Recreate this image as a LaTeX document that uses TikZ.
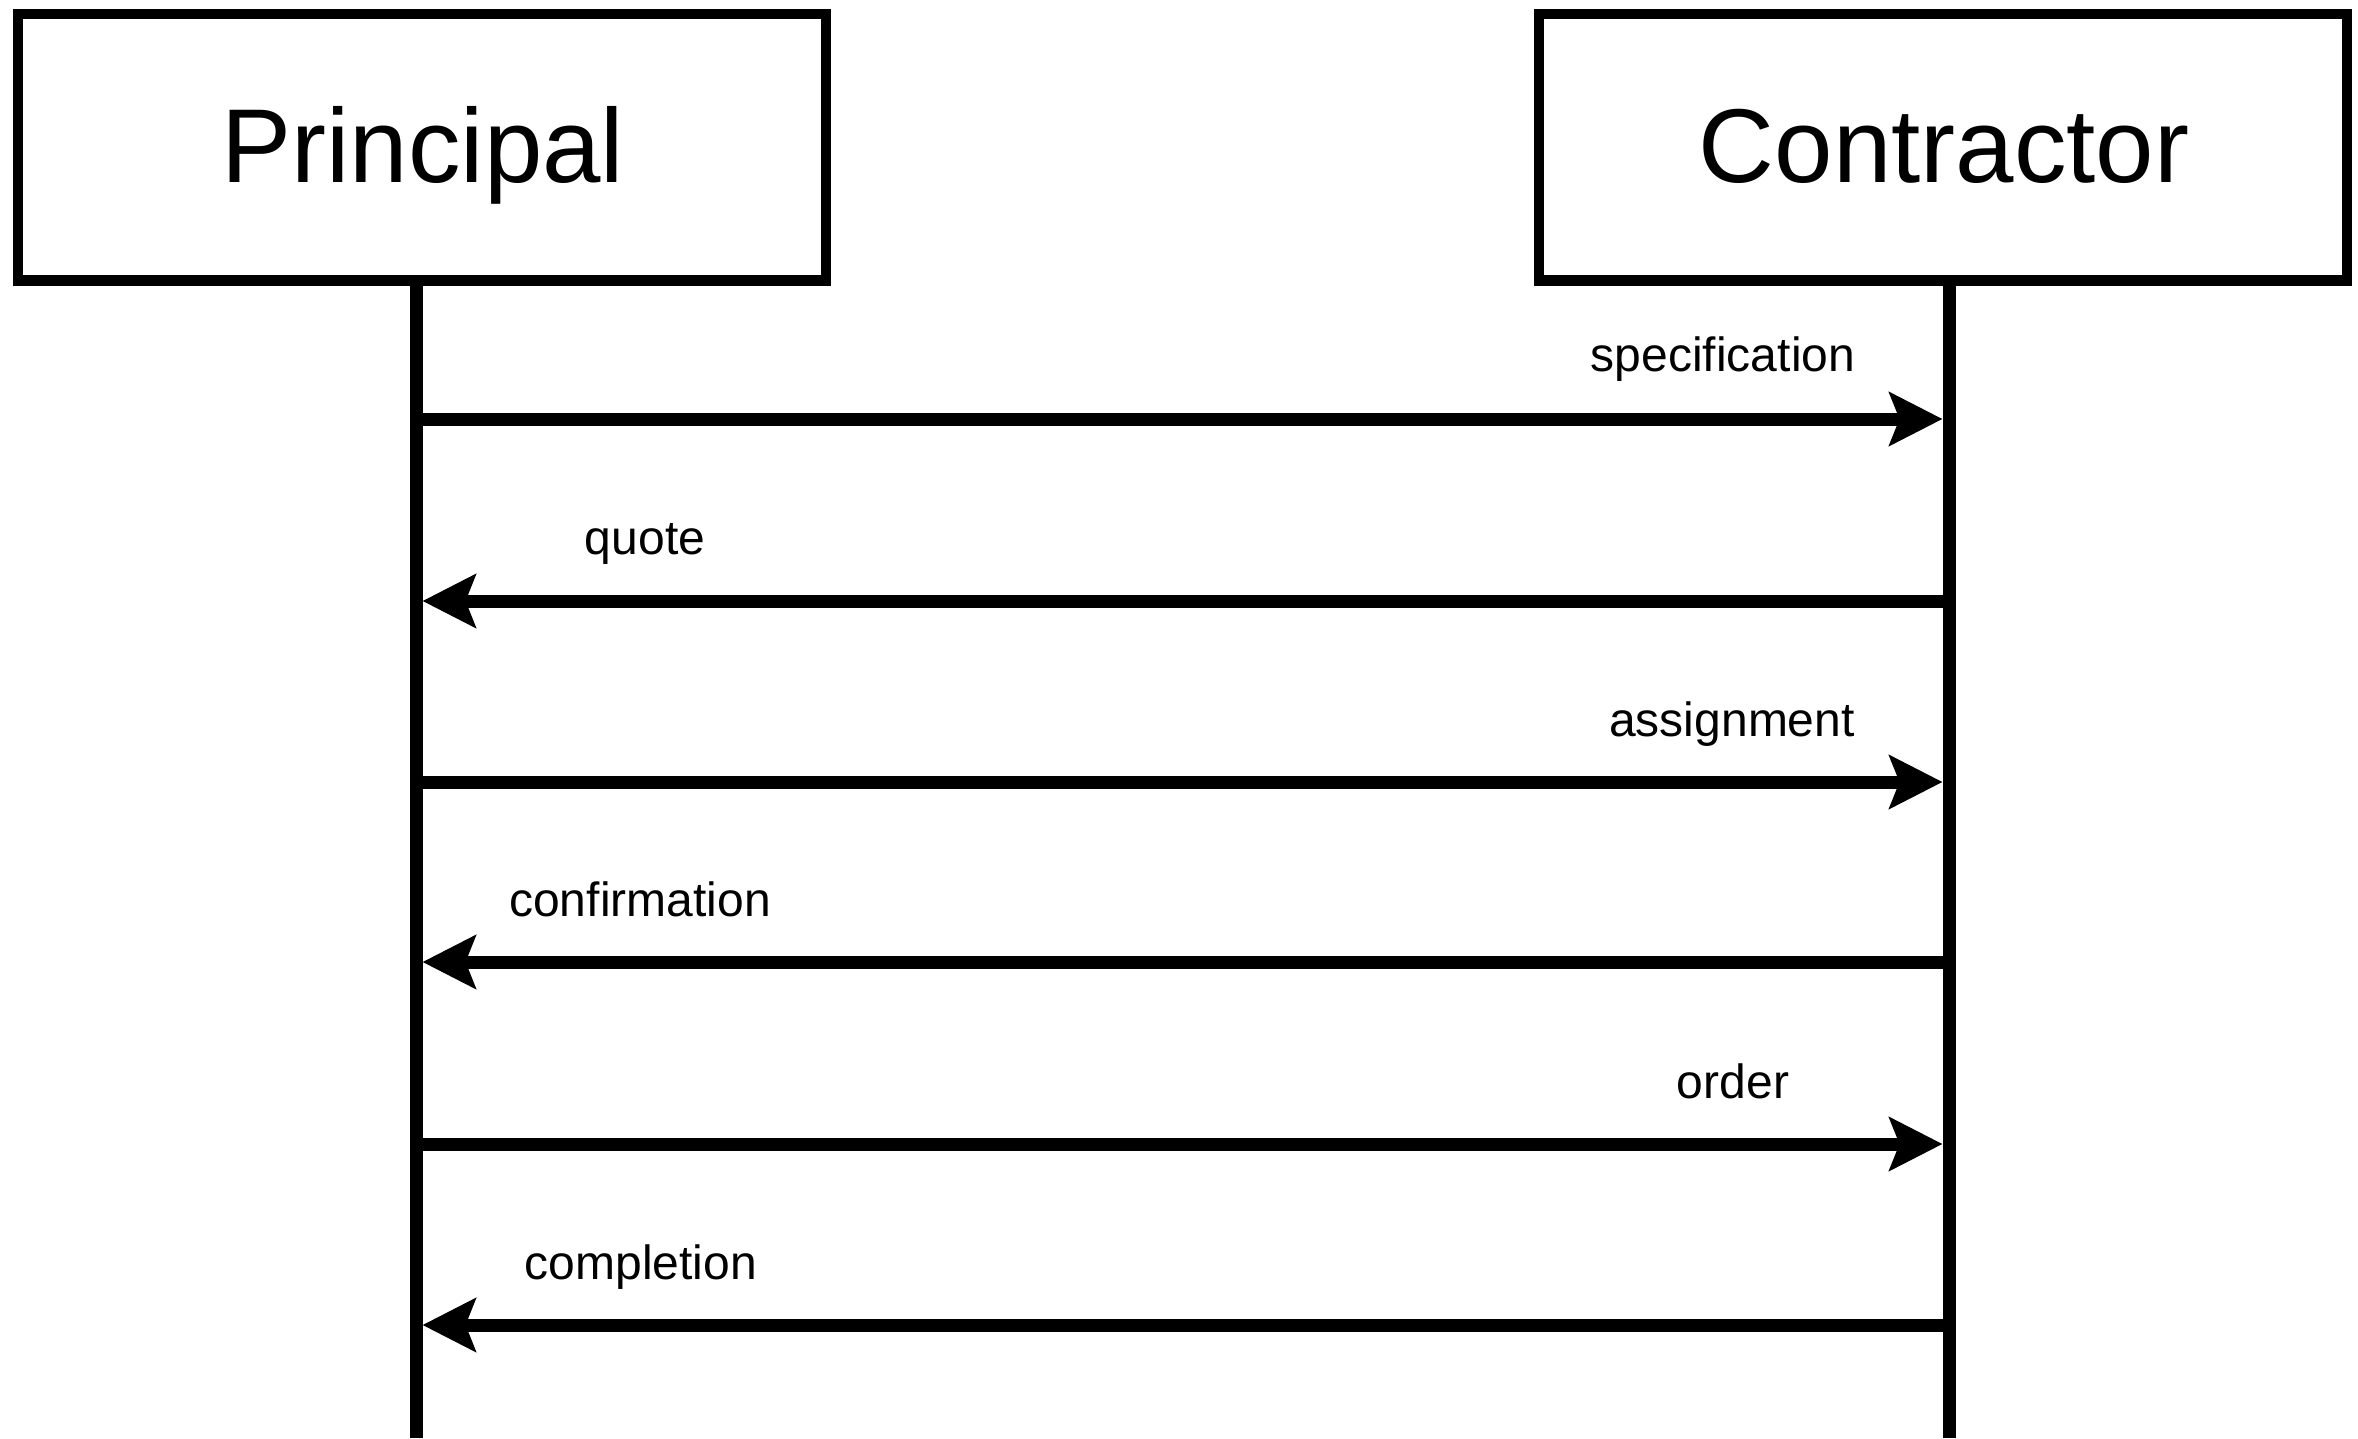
\documentclass[tikz,border=0pt]{standalone}
\usepackage{fontspec}
\setmainfont{Liberation Sans}
\usetikzlibrary{arrows.meta}
\tikzset{
  actorbox/.style={draw=black, line width=10.7pt, minimum width=808pt, minimum height=266.3pt, inner sep=0pt},
  title/.style={anchor=base, inner sep=0pt, font=\fontsize{105}{120}\selectfont},
  life/.style={line width=13pt, draw=black},
  msg/.style={line width=13pt, draw=black, -{Stealth[length=53pt, width=53pt, inset=10pt]}, shorten >=6.5pt},
  msgback/.style={msg, shorten <=-6.5pt},
  msglabel/.style={anchor=base, inner sep=0pt, font=\fontsize{48}{56}\selectfont}
}
\begin{document}
\begin{tikzpicture}[x=1pt, y=-1pt]
\useasboundingbox (0,0) rectangle (2358,1438);

% actor boxes
\node[actorbox] (pbox) at (422,147) {};
\node[actorbox] (cbox) at (1943,147) {};

% titles
\node[title] (ptitle) at (423,182) {Principal};
\node[title] (ctitle) at (1944,182) {Contractor};

% lifeline coordinates
\coordinate (ptop) at (416,280);
\coordinate (pbot) at (416,1438);
\coordinate (ctop) at (1949,280);
\coordinate (cbot) at (1949,1438);

\draw[life] (ptop) -- (pbot);
\draw[life] (ctop) -- (cbot);

% message coordinates
\foreach \i/\yy in {1/419, 2/601, 3/782, 4/962, 5/1144, 6/1325} {
  \coordinate (p\i) at (416,\yy);
  \coordinate (c\i) at (1949,\yy);
}

% messages
\draw[msg] (p1) -- (c1);
\draw[msgback] (c2) -- (p2);
\draw[msg] (p3) -- (c3);
\draw[msgback] (c4) -- (p4);
\draw[msg] (p5) -- (c5);
\draw[msgback] (c6) -- (p6);

% labels
\node[msglabel] (l1) at (1723,371) {specification};
\node[msglabel] (l2) at (645,554) {quote};
\node[msglabel] (l3) at (1732,736) {assignment};
\node[msglabel] (l4) at (640,916) {confirmation};
\node[msglabel] (l5) at (1733,1098) {order};
\node[msglabel] (l6) at (641,1279) {completion};
\end{tikzpicture}
\end{document}
